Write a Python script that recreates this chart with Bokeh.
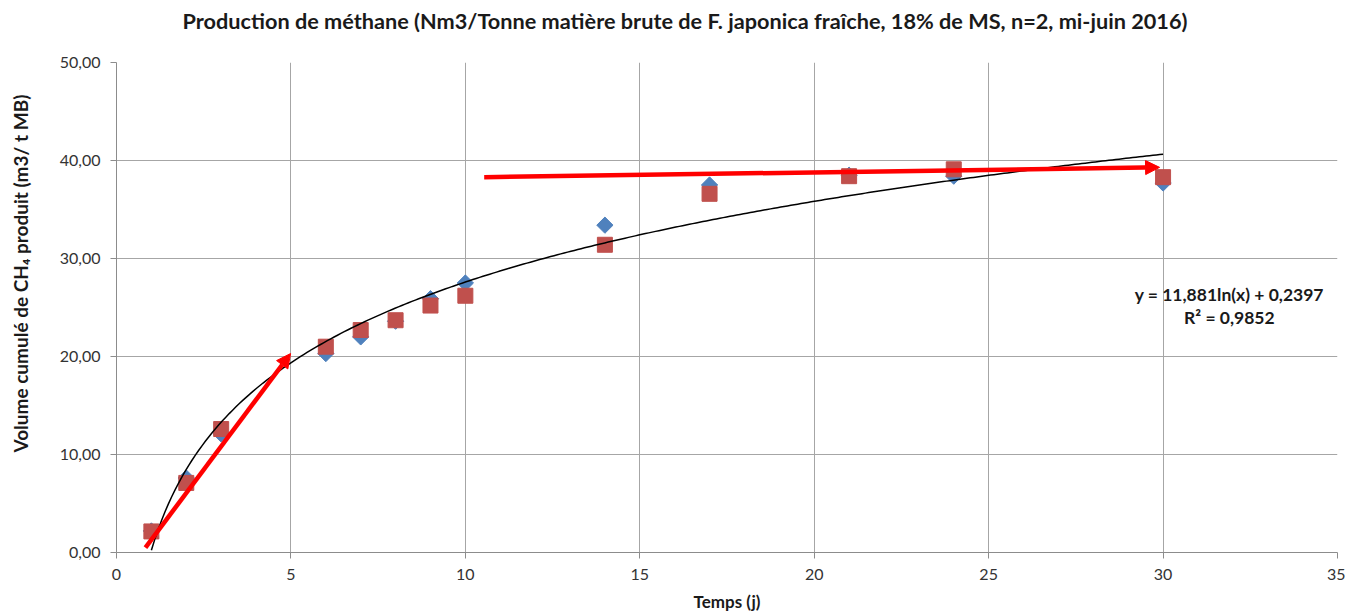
import numpy as np
from bokeh.plotting import figure
from bokeh.models import Range1d, FixedTicker, Label, Arrow, NormalHead, ColumnDataSource, Title
from bokeh.embed import file_html
from bokeh.resources import INLINE

# Data
days = [1, 2, 3, 6, 7, 8, 9, 10, 14, 17, 21, 24, 30]
rep1 = [2.2, 7.6, 12.1, 20.3, 22.0, 23.6, 25.9, 27.5, 33.4, 37.5, 38.5, 38.4, 37.7]
rep2 = [2.15, 7.1, 12.6, 21.0, 22.7, 23.7, 25.2, 26.2, 31.4, 36.6, 38.4, 39.1, 38.3]
fit_a, fit_b, r2 = 11.881, 0.2397, 0.9852
x_ticks = [0, 5, 10, 15, 20, 25, 30, 35]
y_ticks = [0, 10, 20, 30, 40, 50]
y_tick_labels = ["0,00", "10,00", "20,00", "30,00", "40,00", "50,00"]
arrow1 = (0.83, 0.5, 4.99, 20.3)
arrow2 = (10.54, 38.3, 29.9, 39.3)
main_title = "Production de méthane (Nm3/Tonne matière brute de F. japonica fraîche, 18% de MS, n=2, mi-juin 2016)"
y_title = "Volume cumulé de CH₄ produit (m3/ t MB)"

FONT = "Lato"

p = figure(width=1345, height=614, output_backend="svg", toolbar_location=None,
           x_range=Range1d(0, 35), y_range=Range1d(0, 50),
           min_border_left=116, min_border_right=8, min_border_top=62, min_border_bottom=62)

# trailing empty line reserves room so the title sits near the top edge
p.title.text = main_title + "\n"
p.title.text_font = FONT
p.title.text_font_size = "21.7px"
p.title.text_font_style = "bold"
p.title.align = "left"
p.title.offset = 66
p.title.text_color = "#1a1a1a"
p.title.vertical_align = "top"
p.title.standoff = 2

p.outline_line_color = None
p.background_fill_color = "white"

for ax in (p.xaxis[0], p.yaxis[0]):
    ax.axis_line_color = "#8c8c8c"
    ax.major_tick_line_color = "#8c8c8c"
    ax.minor_tick_line_color = None
    ax.major_tick_in = 0
    ax.major_tick_out = 6
    ax.major_label_text_font = FONT
    ax.major_label_text_font_size = "16px"
    ax.major_label_text_color = "#333333"
    ax.axis_label_text_font = FONT
    ax.axis_label_text_font_style = "bold"
    ax.axis_label_text_color = "#1a1a1a"

p.xaxis.ticker = FixedTicker(ticks=x_ticks)
p.yaxis.ticker = FixedTicker(ticks=y_ticks)
p.yaxis.major_label_overrides = {t: l for t, l in zip(y_ticks, y_tick_labels)}
p.xaxis.axis_label = "Temps (j)"
p.xaxis.axis_label_text_font_size = "17px"
p.xaxis.major_label_standoff = 10
p.yaxis.major_label_standoff = 10
p.xaxis.axis_label_standoff = 8

# y-axis title as a side title (shifted upward like the original)
p.add_layout(Title(text=y_title + "\n", align="left", offset=100, text_font=FONT,
                   text_font_size="19px", text_font_style="bold", text_color="#1a1a1a",
                   standoff=4), "left")

p.grid.grid_line_color = "#a6a6a6"
p.grid.grid_line_width = 1

src = ColumnDataSource(dict(x=days, r1=rep1, r2=rep2))
p.scatter("x", "r1", source=src, marker="square", angle=np.pi / 4, size=11.5,
          fill_color="#4F81BD", line_color="#4F81BD")
p.scatter("x", "r2", source=src, marker="square", size=15, fill_color="#C0504D", line_color="#C0504D")

xf = np.linspace(1, 30, 300)
p.line(xf, fit_a * np.log(xf) + fit_b, line_color="black", line_width=1.5)

for (x0, y0, x1, y1) in (arrow1, arrow2):
    p.add_layout(Arrow(end=NormalHead(size=14, fill_color="red", line_color="red"),
                       x_start=x0, y_start=y0, x_end=x1, y_end=y1,
                       line_color="red", line_width=4.5))

p.add_layout(Label(x=31.9, y=26.3, text="y = 11,881ln(x) + 0,2397", text_align="center",
                   text_baseline="middle", text_font=FONT, text_font_size="17.5px",
                   text_font_style="bold", text_color="#1a1a1a"))
p.add_layout(Label(x=31.9, y=24.0, text="R² = 0,9852", text_align="center",
                   text_baseline="middle", text_font=FONT, text_font_size="17.5px",
                   text_font_style="bold", text_color="#1a1a1a"))

open("out.html", "w").write(file_html(p, INLINE))
